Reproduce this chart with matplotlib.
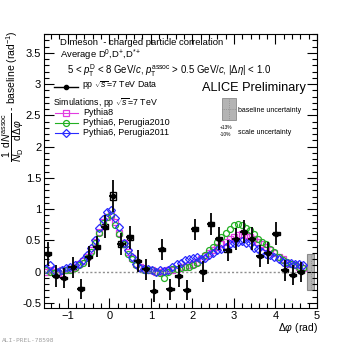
import numpy as np
import matplotlib
matplotlib.use("Agg")
import matplotlib.pyplot as plt
from matplotlib.patches import Rectangle
from matplotlib.ticker import MultipleLocator

plt.rcParams['font.family'] = ['Liberation Sans', 'DejaVu Sans']
plt.rcParams['mathtext.fontset'] = 'custom'
plt.rcParams['mathtext.rm'] = 'Liberation Sans'
plt.rcParams['mathtext.it'] = 'Liberation Sans:italic'
plt.rcParams['mathtext.bf'] = 'Liberation Sans:bold'

# data: 32 bins in dphi (width pi/16)
data_x = -np.pi / 2 + np.pi / 32 + np.arange(32) * np.pi / 16
data_y = [0.29, -0.07, -0.10, 0.07, -0.27, 0.24, 0.40, 0.72, 1.21, 0.44, 0.55, 0.17,
          0.04, -0.31, 0.36, -0.28, -0.07, -0.29, 0.68, 0.00, 0.76, 0.53, 0.34, 0.52,
          0.64, 0.53, 0.25, 0.30, 0.61, 0.02, -0.05, 0.00]
data_stat = [0.18, 0.17, 0.16, 0.17, 0.16, 0.17, 0.17, 0.18, 0.25, 0.18, 0.18, 0.17,
             0.17, 0.17, 0.17, 0.17, 0.17, 0.16, 0.17, 0.17, 0.18, 0.18, 0.17, 0.18,
             0.18, 0.18, 0.17, 0.17, 0.18, 0.17, 0.16, 0.16]
data_syst = [0.025, 0.02, 0.02, 0.02, 0.02, 0.025, 0.03, 0.045, 0.06, 0.045, 0.04, 0.02,
             0.02, 0.02, 0.025, 0.02, 0.02, 0.02, 0.03, 0.02, 0.03, 0.025, 0.025, 0.025,
             0.03, 0.025, 0.02, 0.02, 0.03, 0.02, 0.02, 0.02]

# simulations: 64 bins (width pi/32)
mc_x = -np.pi / 2 + np.pi / 64 + np.arange(64) * np.pi / 32
pythia8 = [0.00, 0.02, 0.00, -0.02, 0.02, 0.03, 0.05, 0.08, 0.12, 0.17, 0.24, 0.34,
           0.48, 0.64, 0.80, 0.88, 0.90, 0.80, 0.62, 0.46, 0.32, 0.22, 0.13, 0.08,
           0.05, 0.03, 0.02, 0.00, 0.00, 0.01, 0.02, 0.03, 0.05, 0.08, 0.08, 0.10,
           0.12, 0.15, 0.20, 0.25, 0.30, 0.34, 0.40, 0.44, 0.48, 0.52, 0.56, 0.58,
           0.60, 0.58, 0.55, 0.52, 0.48, 0.44, 0.40, 0.34, 0.30, 0.24, 0.20, 0.14,
           0.12, 0.10, 0.08, 0.06]
perugia2010 = [0.02, 0.00, -0.02, 0.00, 0.02, 0.02, 0.03, 0.06, 0.10, 0.14, 0.22, 0.32,
               0.46, 0.62, 0.78, 0.88, 0.90, 0.74, 0.60, 0.44, 0.28, 0.20, 0.10, 0.06,
               0.03, 0.02, 0.02, 0.00, -0.02, -0.10, 0.00, 0.04, 0.05, 0.06, 0.08, 0.08,
               0.10, 0.14, 0.18, 0.26, 0.34, 0.40, 0.48, 0.55, 0.62, 0.68, 0.74, 0.77,
               0.74, 0.70, 0.66, 0.60, 0.53, 0.48, 0.45, 0.37, 0.31, 0.24, 0.19, 0.15,
               0.12, 0.10, 0.08, 0.06]
perugia2011 = [0.05, 0.10, 0.03, 0.00, 0.03, 0.06, 0.08, 0.10, 0.13, 0.18, 0.26, 0.38,
               0.50, 0.70, 0.84, 0.96, 0.99, 0.86, 0.72, 0.46, 0.35, 0.24, 0.12, 0.06,
               0.04, 0.05, 0.02, 0.00, 0.03, 0.01, 0.03, 0.07, 0.12, 0.14, 0.18, 0.20,
               0.22, 0.24, 0.20, 0.22, 0.26, 0.30, 0.34, 0.36, 0.40, 0.44, 0.46, 0.48,
               0.49, 0.46, 0.46, 0.38, 0.36, 0.32, 0.28, 0.26, 0.24, 0.20, 0.16, 0.14,
               0.14, 0.12, 0.13, 0.10]

baseline_unc = 0.29

W, H = 354, 344
fig = plt.figure(figsize=(W / 100, H / 100), dpi=100)
ax = fig.add_axes([44 / W, 1 - 308 / H, (317 - 44) / W, (308 - 34) / H])


def px(x, y):
    return x / W, 1 - y / H


mag = '#e23ce2'
grn = '#22b022'
blu = '#2a2aff'

ax.plot(mc_x, pythia8, ls='none', marker='s', ms=4.3, mfc='none', mec=mag, mew=0.9)
ax.plot(mc_x, perugia2010, ls='none', marker='o', ms=4.3, mfc='none', mec=grn, mew=0.9)
ax.plot(mc_x, perugia2011, ls='none', marker='D', ms=3.8, mfc='none', mec=blu, mew=0.9)

ax.plot([-np.pi / 2, 3 * np.pi / 2], [0, 0], ls=(0, (1.5, 1.5)), color='#909090', lw=1)

for x, y, s in zip(data_x, data_y, data_syst):
    ax.add_patch(Rectangle((x - 0.075, y - s), 0.15, 2 * s, fill=False, ec='black', lw=1))
ax.errorbar(data_x, data_y, yerr=data_stat, xerr=np.pi / 32, fmt='o', ms=3,
            color='black', elinewidth=1.3, capsize=0)

ax.add_patch(Rectangle((4.77, -baseline_unc), 0.15, 2 * baseline_unc,
                       fc='#b4b4b4', ec='#8a8a8a', lw=0.8))
ax.plot([4.845, 4.845], [-baseline_unc, baseline_unc], ls=':', color='#888888', lw=0.6)

ax.set_xlim(-1.57, 5.0)
ax.set_ylim(-0.58, 3.8)
ax.xaxis.set_major_locator(MultipleLocator(1))
ax.xaxis.set_minor_locator(MultipleLocator(0.2))
ax.yaxis.set_major_locator(MultipleLocator(0.5))
ax.yaxis.set_minor_locator(MultipleLocator(0.1))
ax.yaxis.set_major_formatter(matplotlib.ticker.FuncFormatter(lambda v, p: '%g' % v))
ax.tick_params(which='both', direction='in', top=True, right=True, labelsize=8, width=0.8)
ax.tick_params(which='major', length=7, pad=2)
ax.tick_params(which='minor', length=3.5)
for s in ax.spines.values():
    s.set_linewidth(0.8)

fig.text(*px(318, 328), r'$\Delta\varphi$ (rad)', ha='right', va='center', fontsize=7.5)
fig.text(*px(13, 30), r'$\dfrac{1}{N_{\rm D}}\dfrac{{\rm d}N^{\rm assoc}}{{\rm d}\Delta\varphi}$ - baseline (rad$^{-1}$)',
         rotation=90, ha='center', va='top', fontsize=7.5)

fig.text(*px(60, 45), 'D meson  - charged particle correlation', fontsize=6.8, va='baseline')
fig.text(*px(60, 58), r'Average D$^{0}$,D$^{+}$,D$^{*+}$', fontsize=6.8, va='baseline')
fig.text(*px(67, 74), r'5 < $p_{\rm T}^{\rm D}$ < 8 GeV/$c$, $p_{\rm T}^{\rm assoc}$ > 0.5 GeV/$c$, |$\Delta\eta$| < 1.0',
         fontsize=6.9, va='baseline')

# legend, drawn by hand
fig.lines.append(plt.Line2D([54 / W, 78 / W], [1 - 87 / H] * 2, color='black', lw=1, transform=fig.transFigure))
fig.lines.append(plt.Line2D([66 / W], [1 - 87 / H], marker='o', ms=3, color='black', transform=fig.transFigure))
fig.text(*px(82, 86), r'pp $\sqrt{s}$=7 TeV Data', fontsize=6.3, va='center')
fig.text(*px(53, 102), r'Simulations, pp $\sqrt{s}$=7 TeV', fontsize=6.3, va='center')
for yy, c, m, ms, lab in [(112.5, mag, 's', 4.3, 'Pythia8'),
                          (122.5, grn, 'o', 4.3, 'Pythia6, Perugia2010'),
                          (132.5, blu, 'D', 3.8, 'Pythia6, Perugia2011')]:
    fig.lines.append(plt.Line2D([55 / W, 78 / W], [1 - yy / H] * 2, color=c, lw=0.8, transform=fig.transFigure))
    fig.lines.append(plt.Line2D([66 / W], [1 - yy / H], marker=m, ms=ms, mfc='none', mec=c, mew=0.9,
                                transform=fig.transFigure))
    fig.text(*px(83, yy), lab, fontsize=6.5, va='center')

fig.text(*px(306, 88), 'ALICE Preliminary', fontsize=9.2, ha='right', va='center')
fig.patches.append(Rectangle(px(222, 120), 14 / W, 22 / H, fc='#b4b4b4', ec='#8a8a8a', lw=0.6,
                             transform=fig.transFigure))
fig.lines.append(plt.Line2D([229 / W] * 2, [1 - 120 / H, 1 - 98 / H], ls=':', color='#808080', lw=0.5,
                            transform=fig.transFigure))
fig.lines.append(plt.Line2D([222 / W, 236 / W], [1 - 109 / H] * 2, ls=':', color='#808080', lw=0.5,
                            transform=fig.transFigure))
fig.text(*px(238, 110.5), 'baseline uncertainty', fontsize=5, va='center')
fig.text(*px(220, 127.5), '+13%', fontsize=3.5, va='center')
fig.text(*px(220, 134), '-10%', fontsize=3.5, va='center')
fig.text(*px(238, 132), 'scale uncertainty', fontsize=5, va='center')

fig.text(*px(2, 340), 'ALI-PREL-78598', fontsize=4.5, family='DejaVu Sans Mono', color='#a0a0a0', va='center')

fig.savefig('out.png', dpi=100)
